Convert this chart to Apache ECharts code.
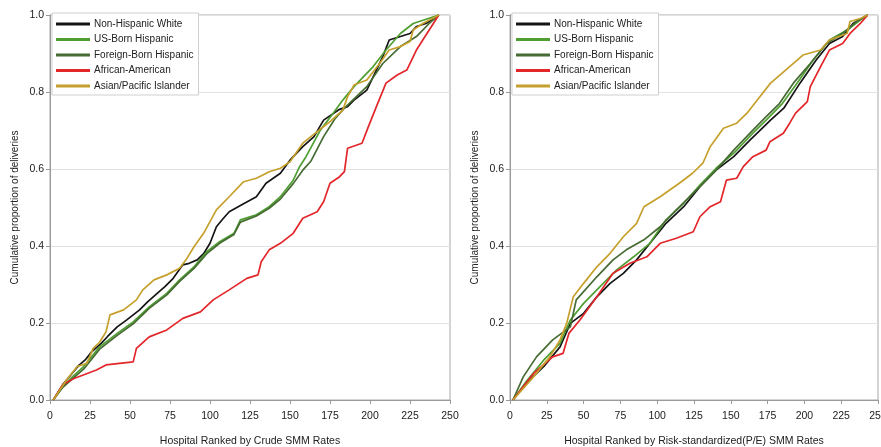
<!DOCTYPE html>
<html>
<head>
<meta charset="utf-8">
<script src="https://cdn.jsdelivr.net/npm/echarts@6/dist/echarts.min.js"></script>
<style>
html, body { margin: 0; padding: 0; background: #fff; }
#main { width: 881px; height: 447px; }
</style>
</head>
<body>
<div id="main"></div>
<script>
// group names, same order in both panels
var groups = ['Non-Hispanic White', 'US-Born Hispanic', 'Foreign-Born Hispanic', 'African-American', 'Asian/Pacific Islander'];
var colors = ['#151515', '#4f9e32', '#466b33', '#e2262a', '#c6a02c'];

var yTicks = [0, 0.2, 0.4, 0.6, 0.8, 1.0];
var xTicks = [0, 25, 50, 75, 100, 125, 150, 175, 200, 225, 250];

// left panel: hospitals ranked by crude SMM rate  [rank, cumulative proportion]
var crudeWhite = [[2,0],[8,0.04],[14,0.07],[18,0.09],[22,0.104],[26,0.125],[32,0.147],[36,0.165],[42,0.19],[48,0.208],[56,0.234],[61,0.255],[67,0.277],[72,0.295],[77,0.316],[83,0.351],[87,0.355],[92,0.364],[96,0.38],[100,0.407],[104,0.45],[108,0.47],[112,0.489],[121,0.51],[129,0.528],[135,0.563],[144,0.589],[150,0.623],[158,0.658],[165,0.684],[171,0.727],[181,0.755],[186,0.762],[190,0.779],[198,0.805],[208,0.892],[212,0.935],[219,0.944],[225,0.952],[229,0.97],[235,0.978],[243,1.0]];
var crudeUSBorn = [[2,0],[8,0.035],[14,0.06],[21,0.087],[31,0.138],[42,0.173],[52,0.203],[62,0.242],[73,0.277],[81,0.312],[90,0.346],[98,0.385],[106,0.411],[115,0.433],[119,0.468],[129,0.481],[137,0.502],[144,0.528],[152,0.571],[156,0.606],[160,0.632],[169,0.701],[177,0.745],[183,0.779],[190,0.814],[202,0.866],[210,0.909],[219,0.952],[227,0.978],[243,1.0]];
var crudeForeign = [[2,0],[8,0.033],[14,0.055],[21,0.08],[31,0.132],[42,0.168],[52,0.198],[62,0.238],[73,0.273],[81,0.308],[90,0.342],[98,0.38],[106,0.407],[115,0.43],[119,0.462],[129,0.478],[137,0.498],[144,0.522],[152,0.562],[158,0.597],[163,0.62],[171,0.684],[178,0.73],[184,0.758],[198,0.814],[208,0.874],[219,0.918],[229,0.944],[237,0.978],[243,1.0]];
var crudeBlack = [[2,0],[8,0.04],[15,0.056],[29,0.078],[35,0.091],[52,0.099],[54,0.134],[62,0.164],[73,0.182],[83,0.212],[94,0.229],[102,0.26],[112,0.286],[123,0.316],[130,0.325],[132,0.359],[137,0.39],[144,0.407],[152,0.433],[158,0.472],[167,0.489],[171,0.515],[175,0.563],[181,0.58],[184,0.593],[186,0.654],[195,0.667],[199,0.71],[204,0.762],[210,0.823],[217,0.844],[223,0.857],[229,0.909],[237,0.961],[243,1.0]];
var crudeAsian = [[2,0],[10,0.05],[17,0.087],[23,0.095],[27,0.134],[31,0.15],[35,0.177],[37.5,0.221],[46,0.234],[54,0.26],[58,0.286],[65,0.312],[73,0.325],[81,0.342],[85,0.364],[90,0.398],[96,0.433],[104,0.494],[112,0.528],[121,0.567],[129,0.576],[137,0.593],[144,0.602],[150,0.619],[158,0.667],[167,0.697],[175,0.723],[183,0.753],[186,0.788],[190,0.818],[198,0.831],[206,0.874],[212,0.909],[219,0.918],[225,0.931],[227,0.961],[233,0.978],[243,1.0]];

// right panel: hospitals ranked by risk-standardized (P/E) SMM rate
var riskWhite = [[2,0],[11,0.043],[23,0.087],[34,0.138],[41,0.199],[50,0.225],[59,0.268],[68,0.303],[77,0.329],[86,0.364],[97,0.416],[106,0.459],[118,0.502],[129,0.554],[140,0.597],[152,0.632],[163,0.675],[177,0.727],[186,0.758],[197,0.823],[208,0.883],[217,0.926],[226,0.944],[233,0.978],[243,1.0]];
var riskUSBorn = [[2,0],[11,0.048],[23,0.104],[34,0.147],[41,0.208],[50,0.251],[61,0.294],[72.5,0.338],[84,0.372],[95,0.407],[106,0.468],[118,0.511],[129,0.558],[140,0.602],[152,0.641],[165,0.693],[174,0.727],[185,0.77],[195,0.823],[206,0.883],[217,0.935],[229,0.961],[238,0.987],[243,1.0]];
var riskForeign = [[2,0],[9,0.06],[18,0.112],[29,0.156],[41,0.19],[45,0.26],[59,0.32],[70,0.364],[79,0.39],[91,0.416],[102,0.45],[113,0.494],[129,0.554],[140,0.597],[152,0.649],[165,0.701],[174,0.736],[183,0.77],[192.5,0.823],[204,0.874],[215,0.926],[226,0.952],[235.5,0.983],[243,1.0]];
var riskBlack = [[2,0],[16,0.069],[29,0.112],[36,0.121],[40,0.173],[47.5,0.208],[59,0.268],[70,0.329],[81.5,0.355],[93,0.372],[102,0.407],[113,0.42],[124.5,0.437],[129,0.476],[136,0.502],[143,0.515],[147,0.571],[154,0.576],[158.5,0.606],[165,0.632],[174,0.649],[176.6,0.671],[185.7,0.693],[190,0.719],[194,0.745],[202,0.775],[204,0.814],[211,0.866],[217,0.909],[226,0.926],[231,0.952],[238,0.978],[243,1.0]];
var riskAsian = [[2,0],[16,0.06],[27,0.112],[34,0.156],[38.5,0.199],[43,0.268],[50,0.303],[59,0.346],[68,0.381],[77,0.424],[86,0.459],[91,0.502],[102,0.528],[115,0.563],[124,0.589],[131,0.615],[136,0.658],[145,0.706],[154,0.719],[161,0.745],[168,0.779],[177,0.823],[190,0.866],[199,0.896],[211,0.909],[217,0.935],[229,0.952],[231,0.983],[238,0.991],[243,1.0]];

var crudeData = [crudeWhite, crudeUSBorn, crudeForeign, crudeBlack, crudeAsian];
var riskData = [riskWhite, riskUSBorn, riskForeign, riskBlack, riskAsian];

var font = "'Liberation Sans Narrow', 'Arial Narrow', 'Liberation Sans', Arial, sans-serif";

function xAxisFor(idx, title) {
	return {
		type: 'value', gridIndex: idx, min: 0, max: 250, interval: 25,
		name: title, nameLocation: 'middle', nameGap: 36,
		nameTextStyle: { fontFamily: font, fontSize: 10.5, color: '#222' },
		axisLine: { show: true, lineStyle: { color: '#9a9a9a' } },
		axisTick: { show: true, length: 4, lineStyle: { color: '#9a9a9a' } },
		axisLabel: { fontFamily: font, fontSize: 10.5, color: '#222', margin: 11 },
		splitLine: { show: false }
	};
}

function yAxisFor(idx) {
	return {
		type: 'value', gridIndex: idx, min: 0, max: 1, interval: 0.2,
		name: 'Cumulative proportion of deliveries', nameLocation: 'middle', nameGap: 30,
		nameTextStyle: { fontFamily: font, fontSize: 10, color: '#222' },
		axisLine: { show: true, lineStyle: { color: '#9a9a9a' } },
		axisTick: { show: true, length: 4, lineStyle: { color: '#9a9a9a' } },
		axisLabel: { fontFamily: font, fontSize: 10.5, color: '#222', margin: 6,
			formatter: function (v) { return v.toFixed(1); } },
		splitLine: { show: true, lineStyle: { color: '#e3e3e3', width: 1 } }
	};
}

function legendFor(left) {
	return {
		data: groups, orient: 'vertical', left: left, top: 13,
		icon: 'rect', itemWidth: 34, itemHeight: 3, itemGap: 5.5,
		padding: [6, 5, 4, 4],
		borderColor: '#cfcfcf', borderWidth: 1, backgroundColor: '#fff',
		textStyle: { fontFamily: font, fontSize: 10, color: '#222', padding: [0, 0, 0, -1] }
	};
}

var series = [];
groups.forEach(function (g, i) {
	series.push({
		name: g, type: 'line', xAxisIndex: 0, yAxisIndex: 0,
		data: crudeData[i], showSymbol: false, symbol: 'none',
		lineStyle: { color: colors[i], width: 1.7 }, itemStyle: { color: colors[i] },
		z: 2 + i
	});
	series.push({
		name: g, type: 'line', xAxisIndex: 1, yAxisIndex: 1,
		data: riskData[i], showSymbol: false, symbol: 'none',
		lineStyle: { color: colors[i], width: 1.7 }, itemStyle: { color: colors[i] },
		z: 2 + i
	});
});

var myChart = echarts.init(document.getElementById('main'));
var option = {
	backgroundColor: '#fff',
	animation: false,
	legend: [legendFor(52), legendFor(512)],
	grid: [
		{ left: 50, top: 15, width: 400, height: 385, outerBoundsMode: 'none', containLabel: false,
			show: true, borderColor: '#a8a8a8', borderWidth: 1 },
		{ left: 510, top: 15, width: 368, height: 385, outerBoundsMode: 'none', containLabel: false,
			show: true, borderColor: '#a8a8a8', borderWidth: 1 }
	],
	xAxis: [xAxisFor(0, 'Hospital Ranked by Crude SMM Rates'), xAxisFor(1, 'Hospital Ranked by Risk-standardized(P/E) SMM Rates')],
	yAxis: [yAxisFor(0), yAxisFor(1)],
	series: series
};
myChart.setOption(option);
</script>
</body>
</html>
